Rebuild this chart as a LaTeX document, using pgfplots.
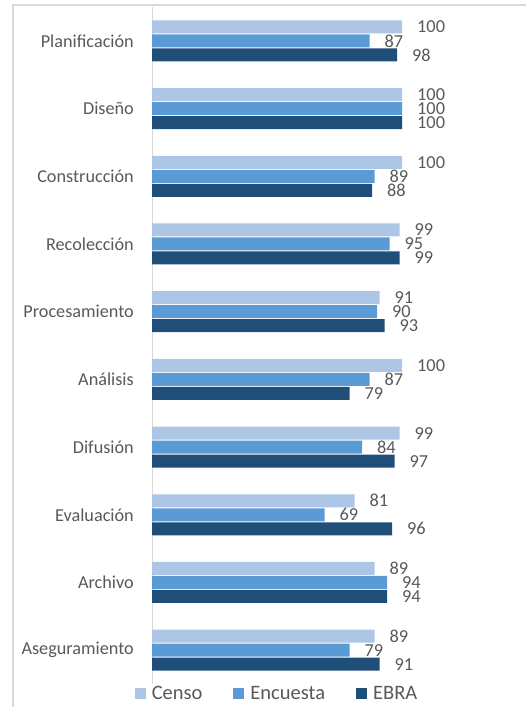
\documentclass[border=0pt]{standalone}
\usepackage{pgfplots}
\pgfplotsset{compat=1.18}
\usepackage{fontspec}
\setmainfont{Carlito}
\definecolor{censo}{HTML}{ADC6E5}
\definecolor{encuesta}{HTML}{5B9BD5}
\definecolor{ebra}{HTML}{1F4E79}
\definecolor{txt}{HTML}{595959}
\definecolor{framec}{HTML}{D9D9D9}
\begin{document}
\begin{tikzpicture}[x=1bp,y=1bp]
\useasboundingbox (0,0) rectangle (526,-707);
\draw[framec,line width=1.2bp] (13,-707) -- (13,-5) -- (526,-5);
\begin{axis}[
 at={(152bp,-7bp)}, anchor=north west,
 scale only axis, width=250bp, height=677bp,
 xmin=0, xmax=100, ymin=-0.5, ymax=9.5, y dir=reverse,
 xbar, bar width=13bp,
 axis x line=none, axis y line*=left,
 y axis line style={draw=framec, line width=1bp, -},
 ytick={0,...,9},
 yticklabels={Planificación,Diseño,Construcción,Recolección,Procesamiento,Análisis,Difusión,Evaluación,Archivo,Aseguramiento},
 major tick length=0pt,
 yticklabel style={font=\fontsize{18.2bp}{20bp}\selectfont, text=txt, inner sep=0pt, anchor=east, xshift=-18bp},
 clip=false,
 nodes near coords,
 every node near coord/.append style={anchor=west, inner sep=0pt, xshift=15bp, font=\fontsize{18.3bp}{20bp}\selectfont, text=txt},
 /pgf/number format/assume math mode=true,
 legend columns=3,
 legend style={draw=none, at={(0.5,0)}, anchor=north, yshift=0bp, font=\fontsize{20.5bp}{22bp}\selectfont, text=txt, inner sep=0pt,
   /tikz/every even column/.append style={column sep=29bp}},
 legend image code/.code={\fill[#1] (0bp,-5.5bp) rectangle (11bp,5.5bp); \path (15bp,0bp);},
]
\addplot[fill=censo, draw=none, bar shift=14bp] coordinates {(100,0) (100,1) (100,2) (99,3) (91,4) (100,5) (99,6) (81,7) (89,8) (89,9)};
\addplot[fill=encuesta, draw=none, bar shift=0bp] coordinates {(87,0) (100,1) (89,2) (95,3) (90,4) (87,5) (84,6) (69,7) (94,8) (79,9)};
\addplot[fill=ebra, draw=none, bar shift=-14bp] coordinates {(98,0) (100,1) (88,2) (99,3) (93,4) (79,5) (97,6) (96,7) (94,8) (91,9)};
\legend{Censo,Encuesta,EBRA}
\end{axis}
\end{tikzpicture}
\end{document}
